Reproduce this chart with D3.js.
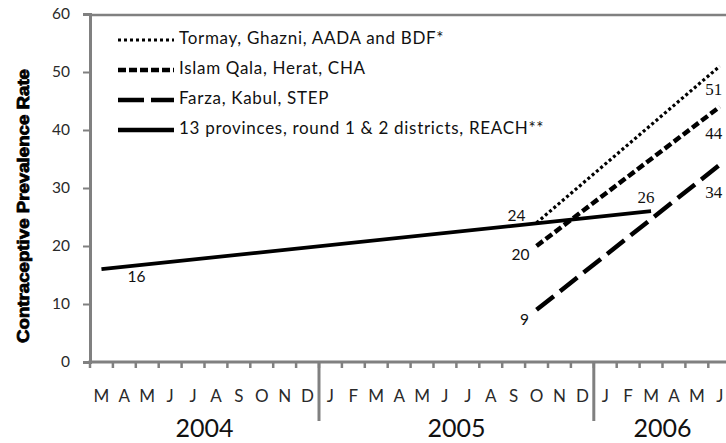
<!DOCTYPE html>
<html>
<head>
<meta charset="utf-8">
<script src="https://cdn.jsdelivr.net/npm/d3@7"></script>
<style>
  html, body { margin: 0; padding: 0; background: #fff; }
  svg { display: block; }
</style>
</head>
<body>
<svg id="chart" width="726" height="443"></svg>
<script>
// ---- Data ----
const categories = [
  "2004-03","2004-04","2004-05","2004-06","2004-07","2004-08","2004-09","2004-10","2004-11","2004-12",
  "2005-01","2005-02","2005-03","2005-04","2005-05","2005-06","2005-07","2005-08","2005-09","2005-10","2005-11","2005-12",
  "2006-01","2006-02","2006-03","2006-04","2006-05","2006-06"
];
const monthLabels = [
  "M","A","M","J","J","A","S","O","N","D",
  "J","F","M","A","M","J","J","A","S","O","N","D",
  "J","F","M","A","M","J"
];
const years = ["2004","2005","2006"];
const yTicks = [0,10,20,30,40,50,60];

const tormay = [{m:"2005-10", v:24}, {m:"2006-06", v:51}];
const islamQala = [{m:"2005-10", v:20}, {m:"2006-06", v:44}];
const farza = [{m:"2005-10", v:9}, {m:"2006-06", v:34}];
const reach = [{m:"2004-03", v:16}, {m:"2006-03", v:26}];

const seriesNames = [
  "Tormay, Ghazni, AADA and BDF*",
  "Islam Qala, Herat, CHA",
  "Farza, Kabul, STEP",
  "13 provinces, round 1 & 2 districts, REACH**"
];

// ---- Layout ----
const svg = d3.select("#chart");
const mLeft = 90, mTop = 14, mBottom = 362, step = 22.9;
const mRight = mLeft + step * categories.length;

const x = d3.scaleBand().domain(categories).range([mLeft, mRight]).padding(0);
const y = d3.scaleLinear().domain([0, 60]).range([mBottom, mTop]);

const axisColor = "#808080";
const sans = "Lato, 'Open Sans', sans-serif";
const serif = "'Liberation Serif', 'DejaVu Serif', serif";

// top border
svg.append("line").attr("x1", mLeft).attr("x2", 726).attr("y1", mTop + 1).attr("y2", mTop + 1)
  .attr("stroke", axisColor).attr("stroke-width", 2.5);

// y axis
const yAxis = d3.axisLeft(y).tickValues(yTicks).tickSize(7).tickPadding(13).tickFormat(d3.format("d"));
const gy = svg.append("g").attr("transform", `translate(${mLeft},0)`).call(yAxis);
gy.select(".domain").attr("stroke", axisColor).attr("stroke-width", 3);
gy.selectAll(".tick line").attr("stroke", axisColor).attr("stroke-width", 2);
gy.selectAll(".tick text").attr("font-family", sans).attr("font-size", 15.5).attr("fill", "#2a2a2a");

// x axis: tick marks at boundaries
const bounds = categories.map(c => x(c)).concat([mRight]);
const gx = svg.append("g");
gx.append("line").attr("x1", mLeft - 1.5).attr("x2", 726).attr("y1", mBottom).attr("y2", mBottom)
  .attr("stroke", axisColor).attr("stroke-width", 3);
gx.selectAll("line.tk").data(bounds).join("line").attr("class", "tk")
  .attr("x1", d => d).attr("x2", d => d).attr("y1", mBottom).attr("y2", mBottom + 6)
  .attr("stroke", axisColor).attr("stroke-width", 2.5);
// year dividers
const dividers = ["2005-01", "2006-01"];
gx.selectAll("line.yd").data(dividers).join("line").attr("class", "yd")
  .attr("x1", d => x(d)).attr("x2", d => x(d)).attr("y1", mBottom).attr("y2", 421)
  .attr("stroke", axisColor).attr("stroke-width", 3);
// month labels
gx.selectAll("text.ml").data(categories).join("text").attr("class", "ml")
  .attr("x", d => x(d) + x.bandwidth() / 2).attr("y", 402)
  .attr("text-anchor", "middle").attr("font-family", sans).attr("font-size", 17).attr("fill", "#2a2a2a")
  .text((d, i) => monthLabels[i]);
// year labels
gx.selectAll("text.yl").data(years).join("text").attr("class", "yl")
  .attr("x", yr => {
    const ms = categories.filter(c => c.startsWith(yr));
    return (x(ms[0]) + x(ms[ms.length - 1]) + x.bandwidth()) / 2;
  })
  .attr("y", 437).attr("text-anchor", "middle").attr("font-family", sans).attr("font-size", 25).attr("fill", "#111")
  .text(d => d);

// y title
svg.append("text")
  .attr("transform", "translate(29,206) rotate(-90)")
  .attr("text-anchor", "middle")
  .attr("font-family", "'Liberation Sans Narrow', 'Arial Narrow', 'Liberation Sans', sans-serif")
  .attr("font-weight", "bold").attr("font-size", 17).attr("fill", "#000")
  .attr("textLength", 274).attr("lengthAdjust", "spacingAndGlyphs")
  .attr("stroke", "#000").attr("stroke-width", 0.8)
  .text("Contraceptive Prevalence Rate");

// ---- Lines ----
const line = d3.line().x(d => x(d.m) + x.bandwidth() / 2).y(d => y(d.v));
const styles = [
  {data: tormay, dash: "3,2.6", w: 3.2, ldash: "3,3", lw: 3.2},
  {data: islamQala, dash: "8,3.5", w: 4.5, ldash: "8,3", lw: 4.5},
  {data: farza, dash: "22,8", w: 4.5, ldash: "26,7", lw: 4.5},
  {data: reach, dash: null, w: 3.8, ldash: null, lw: 4.5}
];
const gl = svg.append("g");
styles.forEach(s => {
  const p = gl.append("path").datum(s.data).attr("d", line)
    .attr("fill", "none").attr("stroke", "#000").attr("stroke-width", s.w);
  if (s.dash) p.attr("stroke-dasharray", s.dash);
});

// ---- Data labels ----
const labels = [
  {s: reach, i: 0, text: "16", dx: 35, dy: 9, font: sans},
  {s: reach, i: 1, text: "26", dx: -5, dy: -12, font: serif},
  {s: tormay, i: 0, text: "24", dx: -20, dy: -6, font: sans},
  {s: tormay, i: 1, text: "51", dx: -6, dy: 25, font: serif},
  {s: islamQala, i: 0, text: "20", dx: -16, dy: 10, font: sans},
  {s: islamQala, i: 1, text: "44", dx: -6, dy: 28, font: serif},
  {s: farza, i: 0, text: "9", dx: -12, dy: 11, font: sans},
  {s: farza, i: 1, text: "34", dx: -6, dy: 29, font: serif}
];
svg.append("g").selectAll("text").data(labels).join("text")
  .attr("x", d => x(d.s[d.i].m) + x.bandwidth() / 2 + d.dx)
  .attr("y", d => y(d.s[d.i].v) + d.dy)
  .attr("text-anchor", "middle").attr("dominant-baseline", "middle")
  .attr("font-family", d => d.font).attr("font-size", d => d.font === serif ? 17 : 15.5)
  .attr("fill", "#111")
  .text(d => d.text);

// ---- Legend ----
const lg = svg.append("g");
styles.forEach((s, i) => {
  const yy = 40 + i * 30;
  const l = lg.append("line").attr("x1", 118).attr("x2", 174).attr("y1", yy).attr("y2", yy)
    .attr("stroke", "#000").attr("stroke-width", s.lw);
  if (s.ldash) l.attr("stroke-dasharray", s.ldash);
  lg.append("text").attr("x", 179).attr("y", yy).attr("dominant-baseline", "middle")
    .attr("font-family", sans).attr("font-size", 17).attr("letter-spacing", 0.7).attr("fill", "#111")
    .text(seriesNames[i]);
});
</script>
</body>
</html>
